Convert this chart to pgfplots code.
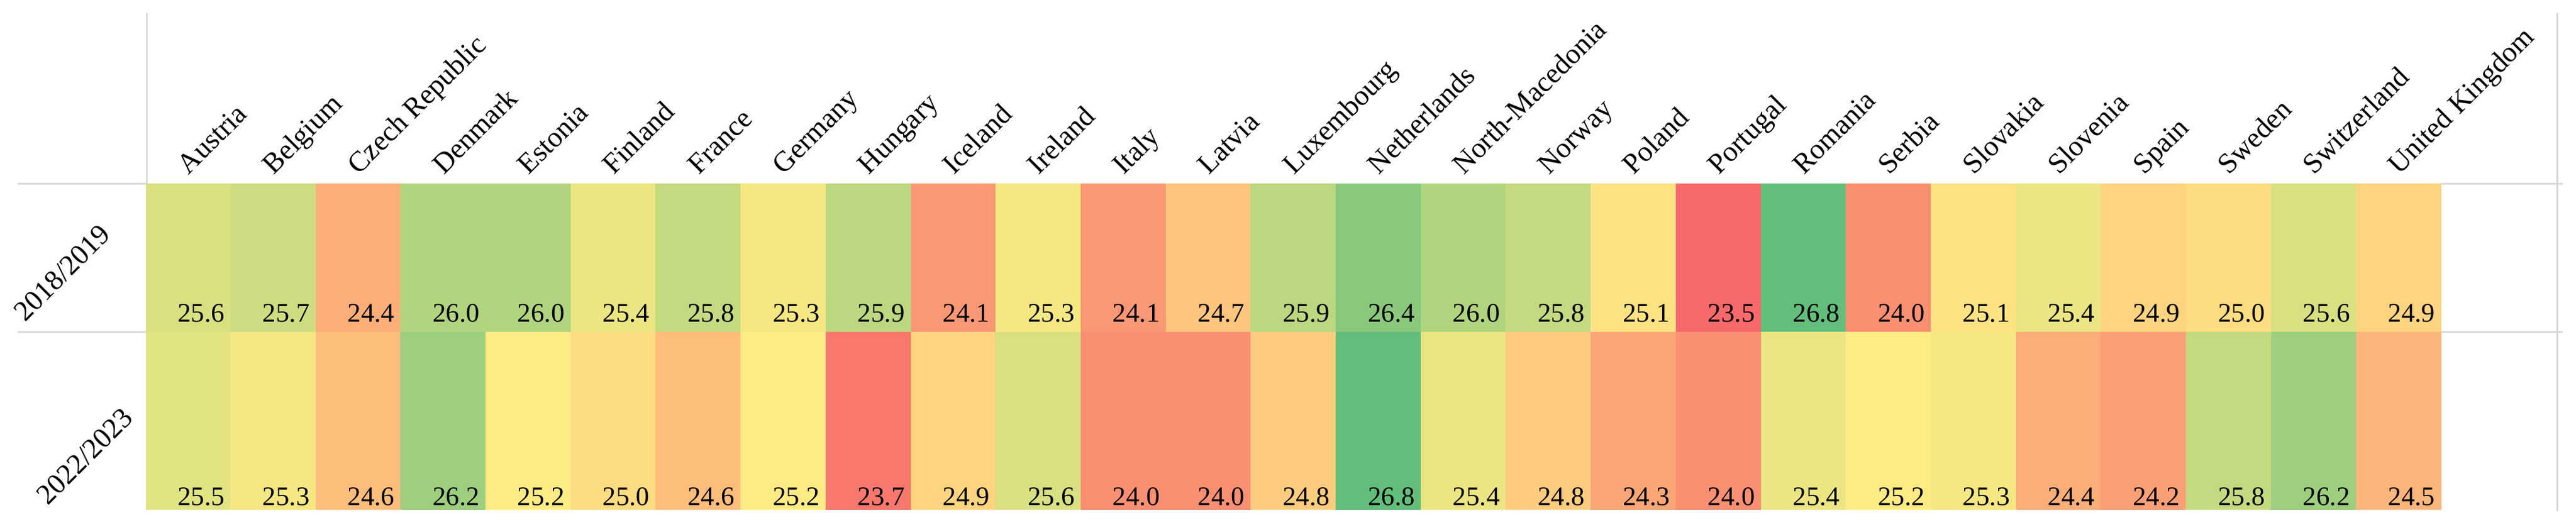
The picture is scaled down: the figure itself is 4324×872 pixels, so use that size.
\documentclass[border=0pt]{standalone}
\usepackage{pgfplots}
\pgfplotsset{compat=1.18}
\usepackage{pgfplotstable}
\usepackage{fontspec}
\setmainfont{Liberation Serif}

\definecolor{rule}{RGB}{217,217,217}
\newcommand\lbl{\fontsize{11.25}{13}\selectfont}
\newcommand\hdr{\fontsize{12}{14}\selectfont}

% corner grid: y=0 -> 2022/2023, y=299 -> 2018/2019,
% last column and top row only close the cells (25.2 = midpoint)
\pgfplotstableread{
x y c
0 0 25.5
1 0 25.3
2 0 24.6
3 0 26.2
4 0 25.2
5 0 25.0
6 0 24.6
7 0 25.2
8 0 23.7
9 0 24.9
10 0 25.6
11 0 24.0
12 0 24.0
13 0 24.8
14 0 26.8
15 0 25.4
16 0 24.8
17 0 24.3
18 0 24.0
19 0 25.4
20 0 25.2
21 0 25.3
22 0 24.4
23 0 24.2
24 0 25.8
25 0 26.2
26 0 24.5
27 0 25.2
0 299 25.6
1 299 25.7
2 299 24.4
3 299 26.0
4 299 26.0
5 299 25.4
6 299 25.8
7 299 25.3
8 299 25.9
9 299 24.1
10 299 25.3
11 299 24.1
12 299 24.7
13 299 25.9
14 299 26.4
15 299 26.0
16 299 25.8
17 299 25.1
18 299 23.5
19 299 26.8
20 299 24.0
21 299 25.1
22 299 25.4
23 299 24.9
24 299 25.0
25 299 25.6
26 299 24.9
27 299 25.2
0 547 25.2
1 547 25.2
2 547 25.2
3 547 25.2
4 547 25.2
5 547 25.2
6 547 25.2
7 547 25.2
8 547 25.2
9 547 25.2
10 547 25.2
11 547 25.2
12 547 25.2
13 547 25.2
14 547 25.2
15 547 25.2
16 547 25.2
17 547 25.2
18 547 25.2
19 547 25.2
20 547 25.2
21 547 25.2
22 547 25.2
23 547 25.2
24 547 25.2
25 547 25.2
26 547 25.2
27 547 25.2
}\grid

\begin{document}
\begin{tikzpicture}[x=0.25pt,y=0.25pt]
\path[use as bounding box] (0,0) rectangle (4324,872);

% light table rules
\draw[rule, line width=0.75pt] (246,850) -- (246,564);
\draw[rule, line width=0.75pt] (30,564) -- (245,564);
\draw[rule, line width=0.75pt] (30,315) -- (245,315);
\draw[rule, line width=0.75pt] (4292,850) -- (4292,14);
\draw[rule, line width=0.75pt] (4097,564) -- (4302,564);
\draw[rule, line width=0.75pt] (4097,315) -- (4302,315);

\begin{axis}[
    at={(61.25pt,4.25pt)}, anchor=south west,
    scale only axis,
    width=963.25pt, height=136.75pt,
    xmin=0, xmax=27, ymin=0, ymax=547,
    axis line style={draw=none},
    major tick length=0pt,
    ytick=\empty,
    xtick={0.5,1.5,...,26.5},
    xticklabels={Austria,Belgium,Czech Republic,Denmark,Estonia,Finland,France,Germany,Hungary,Iceland,Ireland,Italy,Latvia,Luxembourg,Netherlands,North-Macedonia,Norway,Poland,Portugal,Romania,Serbia,Slovakia,Slovenia,Spain,Sweden,Switzerland,United Kingdom},
    xticklabel pos=upper,
    xticklabel shift=3.25pt,
    xticklabel style={rotate=45, anchor=base west, inner sep=0pt, font=\hdr},
    colormap={excel}{rgb255(0pt)=(248,105,107) rgb255(17pt)=(255,235,132) rgb255(33pt)=(99,190,123)},
    point meta min=23.5, point meta max=26.8,
  ]
  \addplot[surf, shader=flat corner, mesh/cols=28, point meta=explicit] table[x=x, y=y, meta=c] {\grid};

  % values, bottom right in each cell
  \addplot[only marks, mark=none, point meta=explicit symbolic, nodes near coords,
    restrict x to domain=0:26.5, restrict y to domain=-10:10,
    nodes near coords style={anchor=base east, inner sep=0pt, xshift=33.18pt, yshift=1.75pt, font=\lbl, text=black}]
    table[x=x, y=y, meta=c] {\grid};
  \addplot[only marks, mark=none, point meta=explicit symbolic, nodes near coords,
    restrict x to domain=0:26.5, restrict y to domain=290:310,
    nodes near coords style={anchor=base east, inner sep=0pt, xshift=33.18pt, yshift=4pt, font=\lbl, text=black}]
    table[x=x, y=y, meta=c] {\grid};
\end{axis}

\node[rotate=45, anchor=base west, inner sep=0pt, font=\hdr] at (42,330) {2018/2019};
\node[rotate=45, anchor=base west, inner sep=0pt, font=\hdr] at (80,22) {2022/2023};
\end{tikzpicture}
\end{document}
